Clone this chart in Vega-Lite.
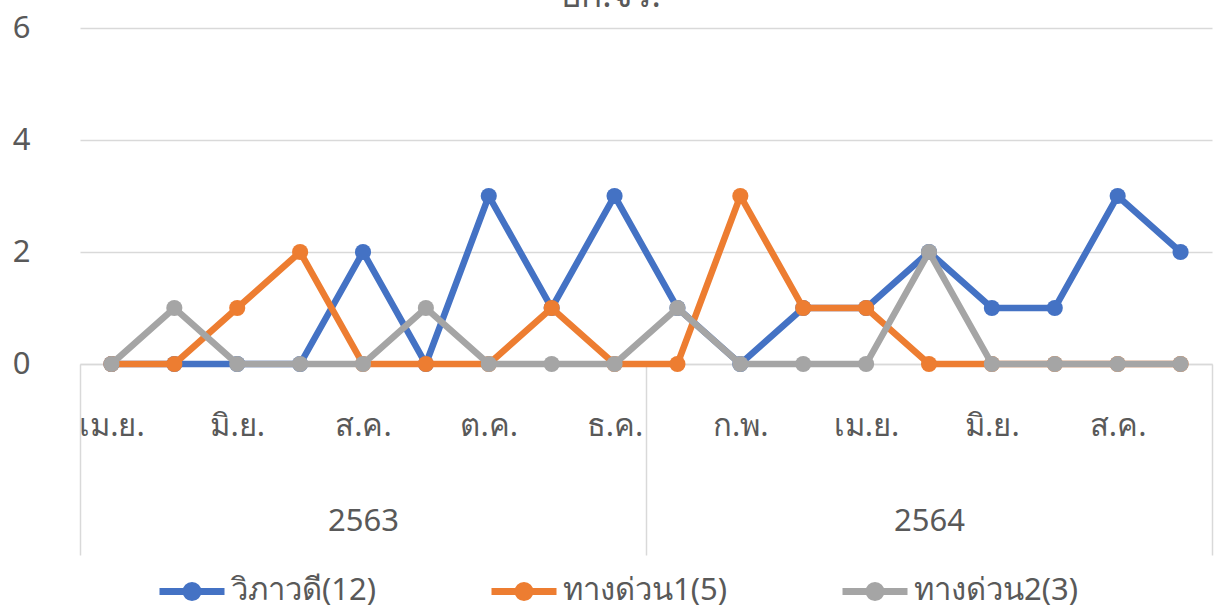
{
  "$schema": "https://vega.github.io/schema/vega-lite/v6.json",
  "autosize": "none",
  "width": 1132,
  "height": 336,
  "padding": {"left": 80, "top": 28, "right": 9, "bottom": 245},
  "title": {
    "text": "บก.จร.",
    "anchor": "middle",
    "font": "Noto Sans",
    "fontSize": 35,
    "fontWeight": "normal",
    "color": "#595959",
    "baseline": "alphabetic",
    "offset": -30,
    "dx": -36
  },
  "config": {
    "view": {"stroke": null},
    "font": "Noto Sans",
    "axis": {"labelFont": "Noto Sans", "labelColor": "#595959", "labelFontSize": 31},
    "legend": {"labelFont": "Noto Sans", "labelColor": "#595959", "labelFontSize": 31}
  },
  "data": {
    "values": [
      {"i": 0, "month": "เม.ย.", "year": "2563", "series": "วิภาวดี(12)", "value": 0},
      {"i": 1, "month": "พ.ค.", "year": "2563", "series": "วิภาวดี(12)", "value": 0},
      {"i": 2, "month": "มิ.ย.", "year": "2563", "series": "วิภาวดี(12)", "value": 0},
      {"i": 3, "month": "ก.ค.", "year": "2563", "series": "วิภาวดี(12)", "value": 0},
      {"i": 4, "month": "ส.ค.", "year": "2563", "series": "วิภาวดี(12)", "value": 2},
      {"i": 5, "month": "ก.ย.", "year": "2563", "series": "วิภาวดี(12)", "value": 0},
      {"i": 6, "month": "ต.ค.", "year": "2563", "series": "วิภาวดี(12)", "value": 3},
      {"i": 7, "month": "พ.ย.", "year": "2563", "series": "วิภาวดี(12)", "value": 1},
      {"i": 8, "month": "ธ.ค.", "year": "2563", "series": "วิภาวดี(12)", "value": 3},
      {"i": 9, "month": "ม.ค.", "year": "2564", "series": "วิภาวดี(12)", "value": 1},
      {"i": 10, "month": "ก.พ.", "year": "2564", "series": "วิภาวดี(12)", "value": 0},
      {"i": 11, "month": "มี.ค.", "year": "2564", "series": "วิภาวดี(12)", "value": 1},
      {"i": 12, "month": "เม.ย.", "year": "2564", "series": "วิภาวดี(12)", "value": 1},
      {"i": 13, "month": "พ.ค.", "year": "2564", "series": "วิภาวดี(12)", "value": 2},
      {"i": 14, "month": "มิ.ย.", "year": "2564", "series": "วิภาวดี(12)", "value": 1},
      {"i": 15, "month": "ก.ค.", "year": "2564", "series": "วิภาวดี(12)", "value": 1},
      {"i": 16, "month": "ส.ค.", "year": "2564", "series": "วิภาวดี(12)", "value": 3},
      {"i": 17, "month": "ก.ย.", "year": "2564", "series": "วิภาวดี(12)", "value": 2},
      {"i": 0, "month": "เม.ย.", "year": "2563", "series": "ทางด่วน1(5)", "value": 0},
      {"i": 1, "month": "พ.ค.", "year": "2563", "series": "ทางด่วน1(5)", "value": 0},
      {"i": 2, "month": "มิ.ย.", "year": "2563", "series": "ทางด่วน1(5)", "value": 1},
      {"i": 3, "month": "ก.ค.", "year": "2563", "series": "ทางด่วน1(5)", "value": 2},
      {"i": 4, "month": "ส.ค.", "year": "2563", "series": "ทางด่วน1(5)", "value": 0},
      {"i": 5, "month": "ก.ย.", "year": "2563", "series": "ทางด่วน1(5)", "value": 0},
      {"i": 6, "month": "ต.ค.", "year": "2563", "series": "ทางด่วน1(5)", "value": 0},
      {"i": 7, "month": "พ.ย.", "year": "2563", "series": "ทางด่วน1(5)", "value": 1},
      {"i": 8, "month": "ธ.ค.", "year": "2563", "series": "ทางด่วน1(5)", "value": 0},
      {"i": 9, "month": "ม.ค.", "year": "2564", "series": "ทางด่วน1(5)", "value": 0},
      {"i": 10, "month": "ก.พ.", "year": "2564", "series": "ทางด่วน1(5)", "value": 3},
      {"i": 11, "month": "มี.ค.", "year": "2564", "series": "ทางด่วน1(5)", "value": 1},
      {"i": 12, "month": "เม.ย.", "year": "2564", "series": "ทางด่วน1(5)", "value": 1},
      {"i": 13, "month": "พ.ค.", "year": "2564", "series": "ทางด่วน1(5)", "value": 0},
      {"i": 14, "month": "มิ.ย.", "year": "2564", "series": "ทางด่วน1(5)", "value": 0},
      {"i": 15, "month": "ก.ค.", "year": "2564", "series": "ทางด่วน1(5)", "value": 0},
      {"i": 16, "month": "ส.ค.", "year": "2564", "series": "ทางด่วน1(5)", "value": 0},
      {"i": 17, "month": "ก.ย.", "year": "2564", "series": "ทางด่วน1(5)", "value": 0},
      {"i": 0, "month": "เม.ย.", "year": "2563", "series": "ทางด่วน2(3)", "value": 0},
      {"i": 1, "month": "พ.ค.", "year": "2563", "series": "ทางด่วน2(3)", "value": 1},
      {"i": 2, "month": "มิ.ย.", "year": "2563", "series": "ทางด่วน2(3)", "value": 0},
      {"i": 3, "month": "ก.ค.", "year": "2563", "series": "ทางด่วน2(3)", "value": 0},
      {"i": 4, "month": "ส.ค.", "year": "2563", "series": "ทางด่วน2(3)", "value": 0},
      {"i": 5, "month": "ก.ย.", "year": "2563", "series": "ทางด่วน2(3)", "value": 1},
      {"i": 6, "month": "ต.ค.", "year": "2563", "series": "ทางด่วน2(3)", "value": 0},
      {"i": 7, "month": "พ.ย.", "year": "2563", "series": "ทางด่วน2(3)", "value": 0},
      {"i": 8, "month": "ธ.ค.", "year": "2563", "series": "ทางด่วน2(3)", "value": 0},
      {"i": 9, "month": "ม.ค.", "year": "2564", "series": "ทางด่วน2(3)", "value": 1},
      {"i": 10, "month": "ก.พ.", "year": "2564", "series": "ทางด่วน2(3)", "value": 0},
      {"i": 11, "month": "มี.ค.", "year": "2564", "series": "ทางด่วน2(3)", "value": 0},
      {"i": 12, "month": "เม.ย.", "year": "2564", "series": "ทางด่วน2(3)", "value": 0},
      {"i": 13, "month": "พ.ค.", "year": "2564", "series": "ทางด่วน2(3)", "value": 2},
      {"i": 14, "month": "มิ.ย.", "year": "2564", "series": "ทางด่วน2(3)", "value": 0},
      {"i": 15, "month": "ก.ค.", "year": "2564", "series": "ทางด่วน2(3)", "value": 0},
      {"i": 16, "month": "ส.ค.", "year": "2564", "series": "ทางด่วน2(3)", "value": 0},
      {"i": 17, "month": "ก.ย.", "year": "2564", "series": "ทางด่วน2(3)", "value": 0}
    ]
  },
  "encoding": {
    "y": {
      "field": "value",
      "type": "quantitative",
      "scale": {"domain": [0, 6], "nice": false, "zero": true},
      "axis": {
        "title": null,
        "values": [0, 2, 4, 6],
        "grid": true,
        "gridColor": "#D9D9D9",
        "gridWidth": 1.5,
        "ticks": false,
        "domain": false,
        "labelPadding": 50
      }
    },
    "color": {
      "field": "series",
      "type": "nominal",
      "sort": ["วิภาวดี(12)", "ทางด่วน1(5)", "ทางด่วน2(3)"],
      "scale": {
        "domain": ["วิภาวดี(12)", "ทางด่วน1(5)", "ทางด่วน2(3)"],
        "range": ["#4472C4", "#ED7D31", "#A5A5A5"]
      },
      "legend": {
        "title": null,
        "orient": "none",
        "legendX": 76,
        "legendY": 527,
        "direction": "horizontal",
        "columnPadding": 100,
        "labelOffset": 3,
        "symbolType": "M-1,0H1M0.185,0A0.185,0.185,0,1,1,-0.185,0A0.185,0.185,0,1,1,0.185,0Z",
        "symbolSize": 4225,
        "symbolStrokeWidth": 7,
        "labelLimit": 400,
        "encode": {
          "symbols": {"update": {"fill": {"scale": "color", "field": "value"}, "stroke": {"scale": "color", "field": "value"}}}
        }
      }
    }
  },
  "layer": [
    {
      "transform": [{"filter": "datum.series === 'วิภาวดี(12)'"}],
      "mark": {"type": "line", "strokeWidth": 6.5, "point": {"filled": true, "size": 260, "opacity": 1}},
      "encoding": {
        "x": {
          "field": "i",
          "type": "quantitative",
          "scale": {"domain": [-0.5, 17.5], "nice": false, "zero": false},
          "axis": {
            "orient": "bottom",
            "title": null,
            "values": [0, 2, 4, 6, 8, 10, 12, 14, 16],
            "labelExpr": "['เม.ย.','พ.ค.','มิ.ย.','ก.ค.','ส.ค.','ก.ย.','ต.ค.','พ.ย.','ธ.ค.','ม.ค.','ก.พ.','มี.ค.','เม.ย.','พ.ค.','มิ.ย.','ก.ค.','ส.ค.','ก.ย.'][datum.value]",
            "ticks": false,
            "grid": false,
            "domainColor": "#D9D9D9",
            "domainWidth": 1.5,
            "labelPadding": 47,
            "labelFlush": false,
            "labelOverlap": false
          }
        }
      }
    },
    {
      "transform": [{"filter": "datum.series === 'ทางด่วน1(5)'"}],
      "mark": {"type": "line", "strokeWidth": 6.5, "point": {"filled": true, "size": 260, "opacity": 1}},
      "encoding": {
        "x": {
          "field": "i",
          "type": "quantitative",
          "scale": {"domain": [-0.5, 17.5], "nice": false, "zero": false},
          "axis": {
            "orient": "bottom",
            "title": null,
            "values": [-0.5, 8.5, 17.5],
            "labels": false,
            "ticks": true,
            "tickSize": 191,
            "tickColor": "#D9D9D9",
            "tickWidth": 1.5,
            "domain": false,
            "grid": false
          }
        }
      }
    },
    {
      "transform": [{"filter": "datum.series === 'ทางด่วน2(3)'"}],
      "mark": {"type": "line", "strokeWidth": 6.5, "point": {"filled": true, "size": 260, "opacity": 1}},
      "encoding": {
        "x": {
          "field": "i",
          "type": "quantitative",
          "scale": {"domain": [-0.5, 17.5], "nice": false, "zero": false},
          "axis": {
            "orient": "bottom",
            "title": null,
            "values": [4, 13],
            "labelExpr": "datum.value === 4 ? '2563' : '2564'",
            "ticks": false,
            "domain": false,
            "grid": false,
            "labelPadding": 142,
            "labelFlush": false,
            "labelOverlap": false
          }
        }
      }
    }
  ],
  "resolve": {"axis": {"x": "independent"}}
}
